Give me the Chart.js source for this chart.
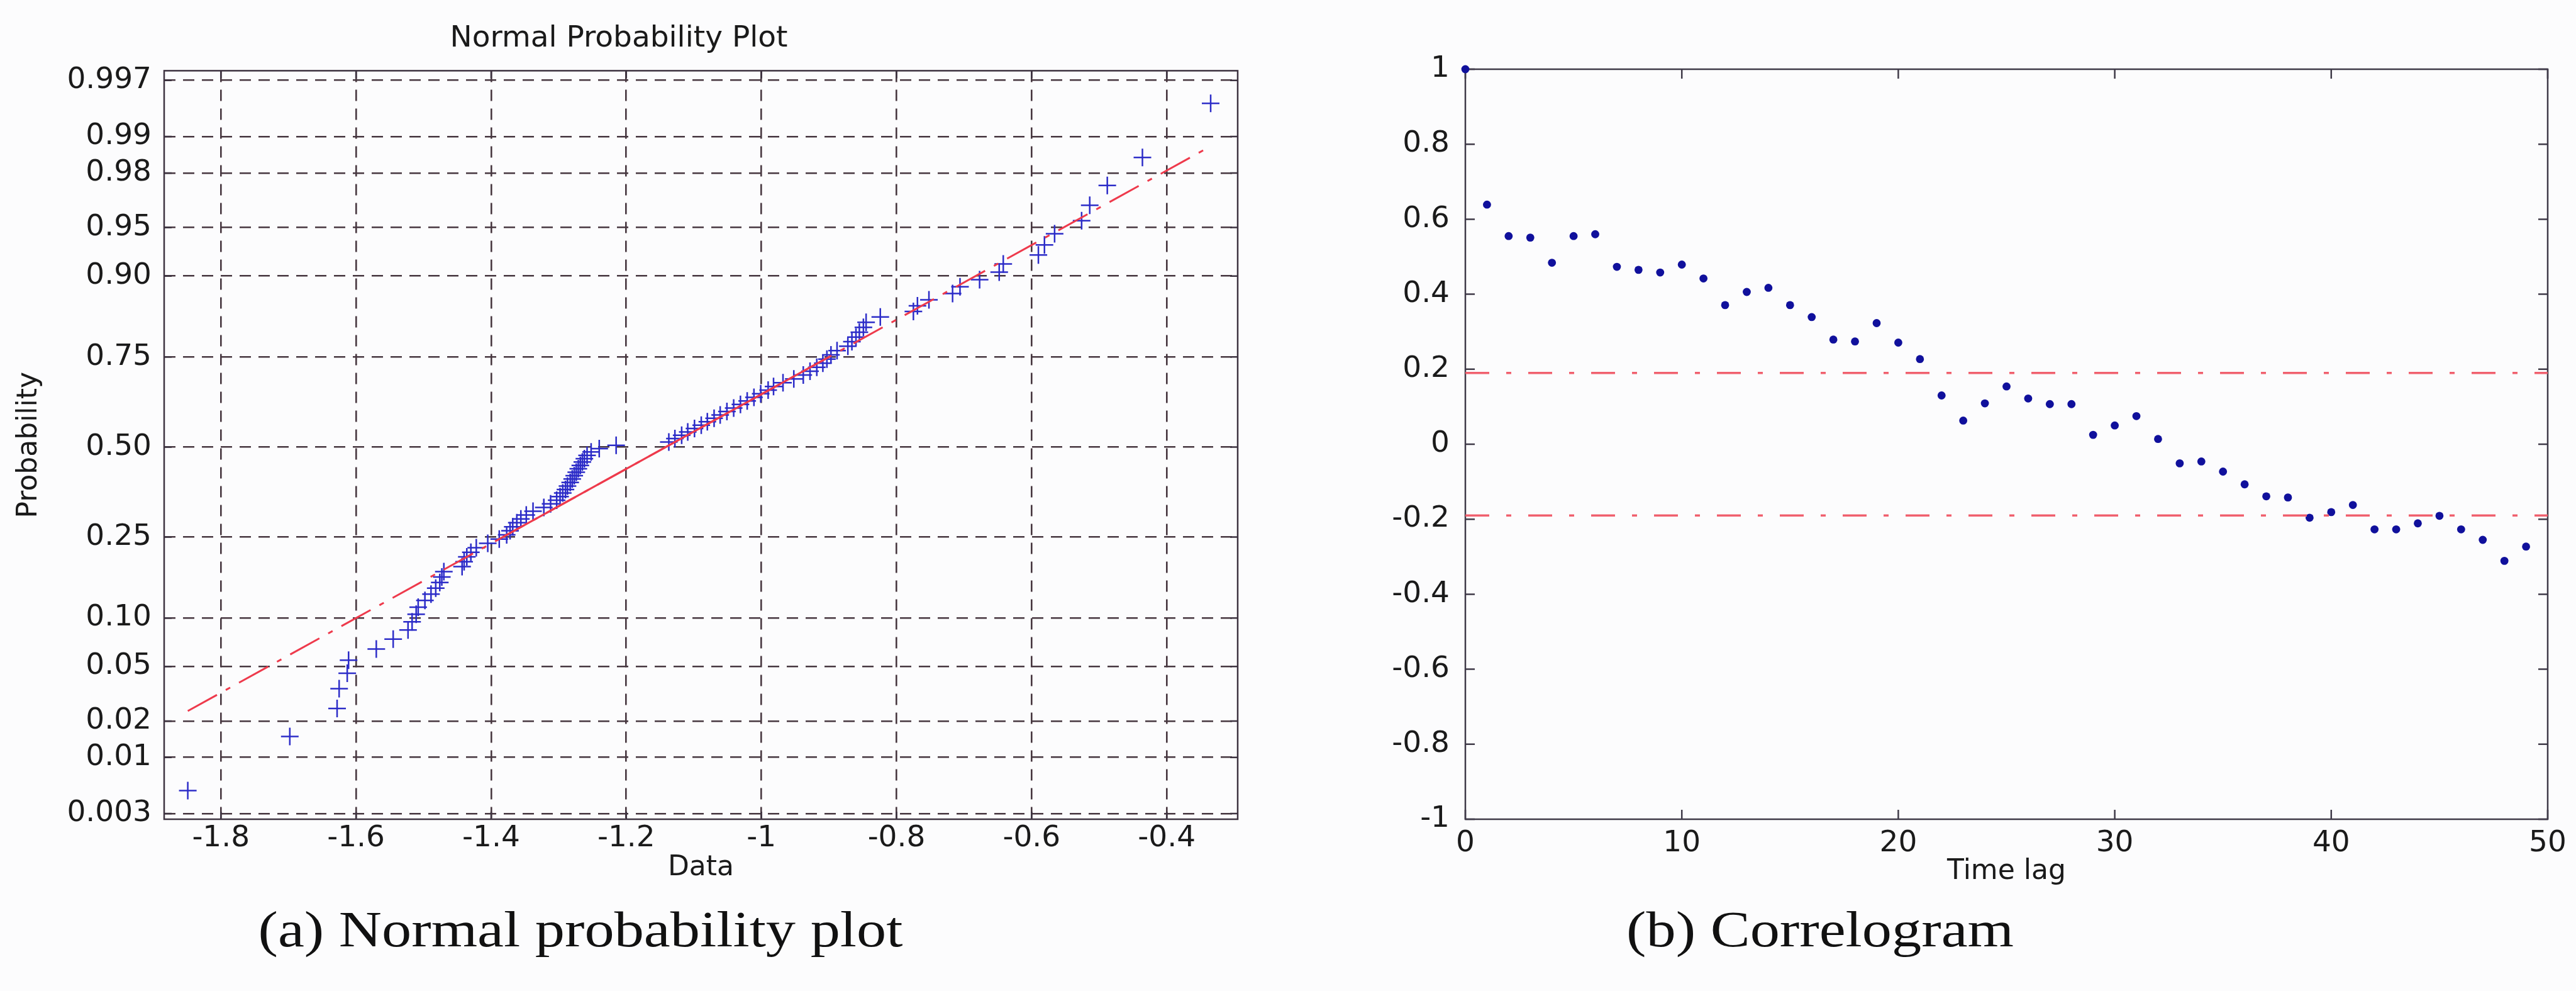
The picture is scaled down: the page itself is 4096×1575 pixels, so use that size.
<!DOCTYPE html>
<html>
<head>
<meta charset="utf-8">
<script src="https://cdn.jsdelivr.net/npm/chart.js@4.4.1/dist/chart.umd.min.js"></script>
<style>
  html, body { margin: 0; padding: 0; background: #fcfcfd; }
  body { width: 4096px; height: 1575px; position: relative; overflow: hidden; }
  #wrap_a { position: absolute; left: 0; top: 0; width: 2204px; height: 1440px; }
  #wrap_b { position: absolute; left: 2204px; top: 0; width: 1892px; height: 1440px; }
  .caption {
    position: absolute; top: 1437px; font-family: "Liberation Serif", serif; font-size: 80px;
    line-height: 1; color: #111; white-space: nowrap; transform: translateX(-50%) scaleX(1.18);
  }
</style>
</head>
<body>
<div id="wrap_a"><canvas id="normal_chart" width="2204" height="1440"></canvas></div>
<div id="wrap_b"><canvas id="acf_chart" width="1892" height="1440"></canvas></div>
<div class="caption" style="left:923px">(a) Normal probability plot</div>
<div class="caption" style="left:2894px">(b) Correlogram</div>

<script>
// ---- data: normal probability plot ----
var sampleValues = [
  -1.849, -1.698, -1.628, -1.625, -1.613, -1.611, -1.570, -1.545, -1.523, -1.517,
  -1.511, -1.508, -1.498, -1.489, -1.482, -1.476, -1.473, -1.470, -1.443, -1.440,
  -1.436, -1.430, -1.422, -1.405, -1.388, -1.377, -1.372, -1.368, -1.362, -1.356,
  -1.348, -1.338, -1.322, -1.312, -1.303, -1.298, -1.294, -1.290, -1.287, -1.283,
  -1.280, -1.277, -1.274, -1.271, -1.268, -1.265, -1.262, -1.258, -1.252, -1.240,
  -1.215, -1.137, -1.128, -1.118, -1.109, -1.099, -1.089, -1.080, -1.070, -1.061,
  -1.051, -1.041, -1.031, -1.021, -1.011, -1.001, -0.990, -0.982, -0.968, -0.952,
  -0.938, -0.928, -0.918, -0.909, -0.903, -0.897, -0.888, -0.872, -0.866, -0.860,
  -0.855, -0.849, -0.845, -0.824, -0.775, -0.769, -0.752, -0.717, -0.706, -0.677,
  -0.648, -0.642, -0.590, -0.581, -0.566, -0.526, -0.514, -0.488, -0.436, -0.335
];
var probTicks = [0.003, 0.01, 0.02, 0.05, 0.10, 0.25, 0.50, 0.75, 0.90, 0.95, 0.98, 0.99, 0.997];
var probLabels = ['0.003', '0.01', '0.02', '0.05', '0.10', '0.25', '0.50', '0.75', '0.90', '0.95', '0.98', '0.99', '0.997'];
var dataTicks = [-1.8, -1.6, -1.4, -1.2, -1, -0.8, -0.6, -0.4];
var dataTickLabels = ['-1.8', '-1.6', '-1.4', '-1.2', '-1', '-0.8', '-0.6', '-0.4'];

// ---- data: correlogram ----
var lags = [0, 1, 2, 3, 4, 5, 6, 7, 8, 9, 10, 11, 12, 13, 14, 15, 16, 17, 18, 19, 20, 21, 22, 23, 24,
  25, 26, 27, 28, 29, 30, 31, 32, 33, 34, 35, 36, 37, 38, 39, 40, 41, 42, 43, 44, 45, 46, 47, 48, 49];
var acfValues = [
  1.0, 0.639, 0.555, 0.551, 0.484, 0.555, 0.560, 0.473, 0.465, 0.458,
  0.479, 0.442, 0.371, 0.406, 0.417, 0.371, 0.339, 0.279, 0.274, 0.323,
  0.271, 0.227, 0.130, 0.063, 0.109, 0.154, 0.122, 0.107, 0.107, 0.025,
  0.050, 0.075, 0.014, -0.051, -0.046, -0.073, -0.107, -0.139, -0.142, -0.196,
  -0.181, -0.162, -0.227, -0.227, -0.211, -0.191, -0.227, -0.255, -0.311, -0.273
];
var confBound = 0.19;
var lagTicks = [0, 10, 20, 30, 40, 50];
var acfTicks = [-1, -0.8, -0.6, -0.4, -0.2, 0, 0.2, 0.4, 0.6, 0.8, 1];
var acfTickLabels = ['-1', '-0.8', '-0.6', '-0.4', '-0.2', '0', '0.2', '0.4', '0.6', '0.8', '1'];

// inverse normal cdf (Acklam)
function normInv(p) {
  var a = [-3.969683028665376e+01, 2.209460984245205e+02, -2.759285104469687e+02, 1.383577518672690e+02, -3.066479806614716e+01, 2.506628277459239e+00];
  var b = [-5.447609879822406e+01, 1.615858368580409e+02, -1.556989798598866e+02, 6.680131188771972e+01, -1.328068155288572e+01];
  var c = [-7.784894002430293e-03, -3.223964580411365e-01, -2.400758277161838e+00, -2.549732539343734e+00, 4.374664141464968e+00, 2.938163982698783e+00];
  var d = [7.784695709041462e-03, 3.224671290700398e-01, 2.445134137142996e+00, 3.754408661907416e+00];
  var q, r;
  if (p < 0.02425) {
    q = Math.sqrt(-2 * Math.log(p));
    return (((((c[0] * q + c[1]) * q + c[2]) * q + c[3]) * q + c[4]) * q + c[5]) / ((((d[0] * q + d[1]) * q + d[2]) * q + d[3]) * q + 1);
  }
  if (p <= 1 - 0.02425) {
    q = p - 0.5; r = q * q;
    return (((((a[0] * r + a[1]) * r + a[2]) * r + a[3]) * r + a[4]) * r + a[5]) * q / (((((b[0] * r + b[1]) * r + b[2]) * r + b[3]) * r + b[4]) * r + 1);
  }
  q = Math.sqrt(-2 * Math.log(1 - p));
  return -(((((c[0] * q + c[1]) * q + c[2]) * q + c[3]) * q + c[4]) * q + c[5]) / ((((d[0] * q + d[1]) * q + d[2]) * q + d[3]) * q + 1);
}

Chart.defaults.font.family = '"DejaVu Sans", sans-serif';
Chart.defaults.color = '#1a1a1a';

var textColor = '#1a1a1a';
var gridColor = '#46363f';
var redLine = '#ee3a4c';
var plusBlue = '#2c2cc8';
var dotBlue = '#10109c';

// box + inward ticks, drawn under the marks
var framePlugin = {
  id: 'frame',
  beforeDatasetsDraw: function (chart, args, opts) {
    var ctx = chart.ctx, a = chart.chartArea, sx = chart.scales.x, sy = chart.scales.y;
    var len = opts.tickLen;
    ctx.save();
    ctx.strokeStyle = opts.color;
    ctx.lineWidth = opts.width;
    ctx.strokeRect(a.left, a.top, a.right - a.left, a.bottom - a.top);
    ctx.beginPath();
    sx.ticks.forEach(function (t) {
      var px = sx.getPixelForValue(t.value);
      ctx.moveTo(px, a.bottom); ctx.lineTo(px, a.bottom - len);
      ctx.moveTo(px, a.top); ctx.lineTo(px, a.top + len);
    });
    sy.ticks.forEach(function (t) {
      var py = sy.getPixelForValue(t.value);
      ctx.moveTo(a.left, py); ctx.lineTo(a.left + len, py);
      ctx.moveTo(a.right, py); ctx.lineTo(a.right - len, py);
    });
    ctx.stroke();
    ctx.restore();
  }
};

// ---- chart (a) ----
var sorted = sampleValues.slice().sort(function (p, q) { return p - q; });
var n = sorted.length;
var probPoints = sorted.map(function (v, i) { return { x: v, y: normInv((i + 0.5) / n) }; });
var q1 = (sorted[Math.floor(n / 4) - 1] + sorted[Math.floor(n / 4)]) / 2;
var q3 = (sorted[Math.floor(3 * n / 4) - 1] + sorted[Math.floor(3 * n / 4)]) / 2;
var zq = normInv(0.75);
var slope = 2 * zq / (q3 - q1);
var mid = (q1 + q3) / 2;
function fitZ(x) { return slope * (x - mid); }

var normal_chart = document.getElementById('normal_chart');
var My_normal_chart = new Chart(normal_chart, {
  type: 'scatter',
  data: {
    datasets: [{
      data: [{ x: sorted[0], y: fitZ(sorted[0]) }, { x: sorted[n - 1], y: fitZ(sorted[n - 1]) }],
      showLine: true,
      borderColor: redLine,
      borderWidth: 3,
      borderDash: [53, 16, 8, 16],
      pointRadius: 0
    }, {
      data: [{ x: q1, y: fitZ(q1) }, { x: q3, y: fitZ(q3) }],
      showLine: true,
      borderColor: redLine,
      borderWidth: 3,
      pointRadius: 0
    }, {
      data: probPoints,
      pointStyle: 'cross',
      pointRadius: 14,
      pointBorderWidth: 2.5,
      pointBorderColor: plusBlue,
      pointBackgroundColor: plusBlue
    }]
  },
  plugins: [framePlugin],
  options: {
    responsive: false,
    animation: false,
    devicePixelRatio: 1,
    layout: { padding: { left: 0, right: 236, top: 0, bottom: 0 } },
    plugins: {
      legend: { display: false },
      tooltip: { enabled: false },
      title: {
        display: true,
        text: 'Normal Probability Plot',
        color: textColor,
        font: { size: 47, weight: 'normal' },
        padding: { top: 34, bottom: 22 }
      },
      frame: { color: '#3d3340', width: 2.5, tickLen: 12 }
    },
    scales: {
      x: {
        type: 'linear',
        min: -1.884,
        max: -0.295,
        afterBuildTicks: function (s) { s.ticks = dataTicks.map(function (v) { return { value: v }; }); },
        afterFit: function (s) { s.height = 138; },
        ticks: {
          callback: function (v, i) { return dataTickLabels[i]; },
          color: textColor, font: { size: 47 }, padding: 3, maxRotation: 0, autoSkip: false
        },
        grid: { color: gridColor, lineWidth: 2.6, drawTicks: false },
        border: { display: false, dash: [18, 12] },
        title: { display: true, text: 'Data', color: textColor, font: { size: 44 }, padding: { top: 0, bottom: 34 } }
      },
      y: {
        type: 'linear',
        min: -2.79,
        max: 2.82,
        afterBuildTicks: function (s) { s.ticks = probTicks.map(function (p) { return { value: normInv(p) }; }); },
        afterFit: function (s) { s.width = 261; },
        ticks: {
          callback: function (v, i) { return probLabels[i]; },
          color: textColor, font: { size: 47 }, padding: 20, autoSkip: false
        },
        grid: { color: gridColor, lineWidth: 2.6, drawTicks: false },
        border: { display: false, dash: [18, 12] },
        title: { display: true, text: 'Probability', color: textColor, font: { size: 44 }, padding: { top: 20, bottom: 0 } }
      }
    }
  }
});

// ---- chart (b) ----
var acfPoints = lags.map(function (l, i) { return { x: l, y: acfValues[i] }; });
var xFirst = lagTicks[0], xLast = lagTicks[lagTicks.length - 1];

var acf_chart = document.getElementById('acf_chart');
var My_acf_chart = new Chart(acf_chart, {
  type: 'scatter',
  data: {
    datasets: [{
      data: [{ x: xFirst, y: confBound }, { x: xLast, y: confBound }],
      showLine: true,
      borderColor: '#f0606e',
      borderWidth: 3.5,
      borderDash: [38, 27, 8, 27],
      pointRadius: 0
    }, {
      data: [{ x: xFirst, y: -confBound }, { x: xLast, y: -confBound }],
      showLine: true,
      borderColor: '#f0606e',
      borderWidth: 3.5,
      borderDash: [38, 27, 8, 27],
      pointRadius: 0
    }, {
      data: acfPoints,
      pointStyle: 'circle',
      pointRadius: 6.4,
      pointBorderWidth: 0,
      pointBackgroundColor: dotBlue,
      clip: false
    }]
  },
  plugins: [framePlugin],
  options: {
    responsive: false,
    animation: false,
    devicePixelRatio: 1,
    layout: { padding: { left: 0, right: 45, top: 110, bottom: 0 } },
    plugins: {
      legend: { display: false },
      tooltip: { enabled: false },
      frame: { color: '#3f3a48', width: 2.5, tickLen: 15 }
    },
    scales: {
      x: {
        type: 'linear',
        min: xFirst,
        max: xLast,
        afterBuildTicks: function (s) { s.ticks = lagTicks.map(function (v) { return { value: v }; }); },
        afterFit: function (s) { s.height = 138; },
        ticks: {
          callback: function (v, i) { return String(lagTicks[i]); },
          color: textColor, font: { size: 47 }, padding: 3, maxRotation: 0, autoSkip: false
        },
        grid: { display: false },
        border: { display: false },
        title: { display: true, text: 'Time lag', color: textColor, font: { size: 44 }, padding: { top: 0, bottom: 28 } }
      },
      y: {
        type: 'linear',
        min: -1,
        max: 1,
        afterBuildTicks: function (s) { s.ticks = acfTicks.map(function (v) { return { value: v }; }); },
        afterFit: function (s) { s.width = 126; },
        ticks: {
          callback: function (v, i) { return acfTickLabels[i]; },
          color: textColor, font: { size: 47 }, padding: 17, autoSkip: false
        },
        grid: { display: false },
        border: { display: false }
      }
    }
  }
});
</script>
</body>
</html>
